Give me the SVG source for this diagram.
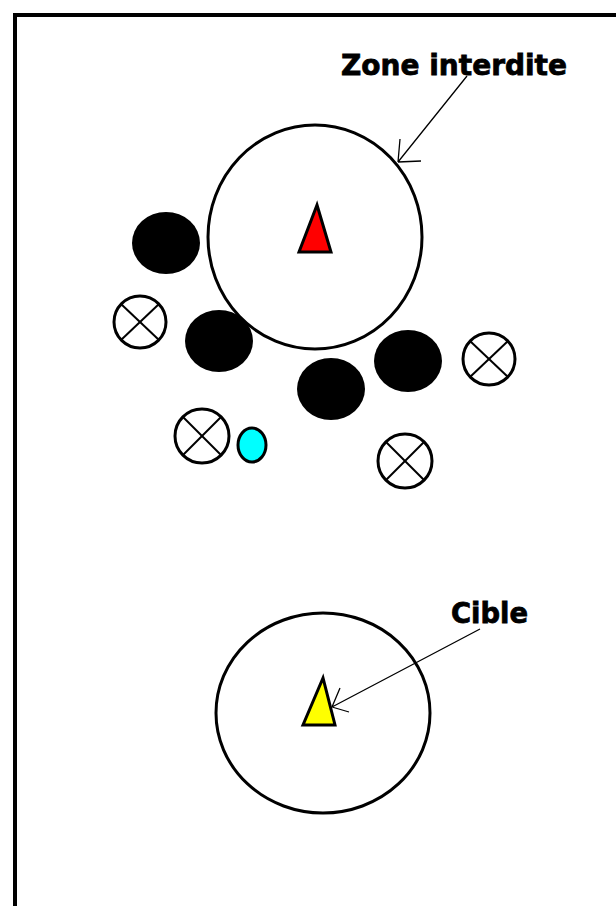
<svg xmlns="http://www.w3.org/2000/svg" width="616" height="906" viewBox="0 0 616 906">
  <style>
    .ring { fill: #fff; stroke: #000; stroke-width: 3; }
    .blob { fill: #000; }
    .cross { fill: #fff; stroke: #000; stroke-width: 3; }
    .cross line { stroke-width: 2; }
    .ptr { stroke: #000; stroke-width: 1.3; fill: none; }
    .lbl { font-family: "DejaVu Sans", "Liberation Sans", sans-serif; font-weight: bold; fill: #000; stroke: #000; stroke-width: 0.8; }
  </style>
  <rect x="0" y="0" width="616" height="906" fill="#fff"/>
  <!-- frame: top and left edges only -->
  <path d="M15 906 V15 H616" fill="none" stroke="#000" stroke-width="4"/>

  <g id="zone-interdite">
    <ellipse class="ring" cx="315" cy="237" rx="107" ry="112"/>
    <polygon points="317,205 299,252 331,252" fill="#f00" stroke="#000" stroke-width="3"/>
  </g>

  <g id="cible">
    <ellipse class="ring" cx="323" cy="713" rx="107" ry="100"/>
    <polygon points="323,678 303,725 335,725" fill="#ff0" stroke="#000" stroke-width="3"/>
  </g>

  <g id="obstacles">
    <ellipse class="blob" cx="166" cy="243" rx="34" ry="31"/>
    <ellipse class="blob" cx="219" cy="341" rx="34" ry="31"/>
    <ellipse class="blob" cx="331" cy="389" rx="34" ry="31"/>
    <ellipse class="blob" cx="408" cy="361" rx="34" ry="31"/>
  </g>

  <g id="marks">
    <g class="cross" transform="translate(140,322)">
      <circle r="26"/>
      <line x1="-19" y1="-18" x2="19" y2="18"/><line x1="19" y1="-18" x2="-19" y2="18"/>
    </g>
    <g class="cross" transform="translate(489,359)">
      <circle r="26"/>
      <line x1="-19" y1="-18" x2="19" y2="18"/><line x1="19" y1="-18" x2="-19" y2="18"/>
    </g>
    <g class="cross" transform="translate(202,436)">
      <circle r="27"/>
      <line x1="-19" y1="-19" x2="19" y2="19"/><line x1="19" y1="-19" x2="-19" y2="19"/>
    </g>
    <g class="cross" transform="translate(405,461)">
      <circle r="27"/>
      <line x1="-19" y1="-19" x2="19" y2="19"/><line x1="19" y1="-19" x2="-19" y2="19"/>
    </g>
  </g>

  <g id="unit">
    <ellipse cx="252" cy="445" rx="14" ry="17" fill="#00ffff" stroke="#000" stroke-width="3"/>
  </g>

  <g id="labels">
    <text class="lbl" x="341" y="75" font-size="29" textLength="226" lengthAdjust="spacingAndGlyphs">Zone interdite</text>
    <text class="lbl" x="451" y="623" font-size="29" textLength="77" lengthAdjust="spacingAndGlyphs">Cible</text>
  </g>

  <g id="connectors">
    <path class="ptr" d="M467 76 L398 162 M398 162 L400 139 M398 162 L421 161"/>
    <path class="ptr" d="M480 629 L332 707 M332 707 L340 688 M332 707 L349 712"/>
  </g>
</svg>
